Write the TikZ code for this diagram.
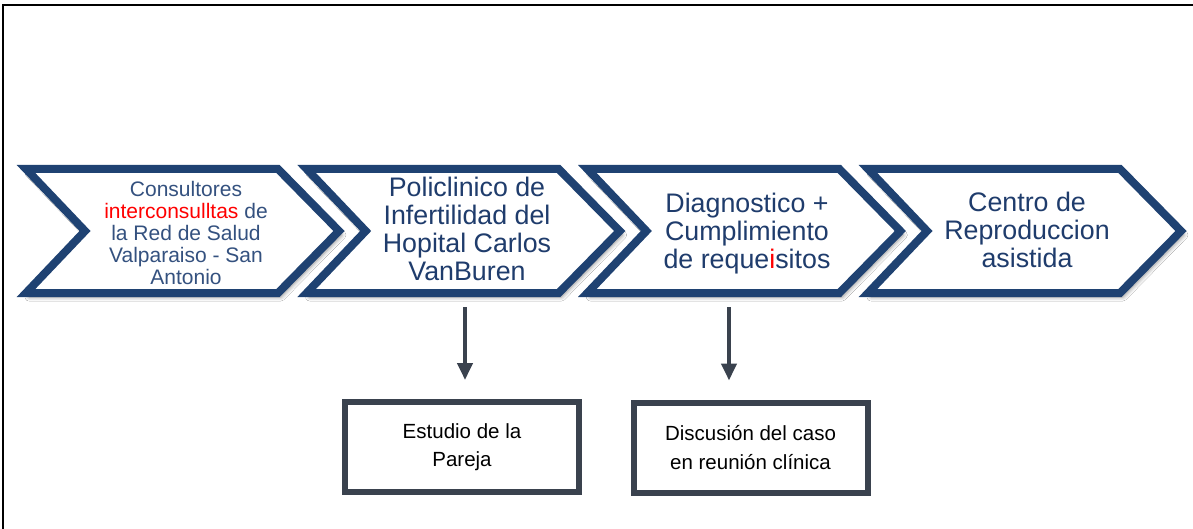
\documentclass[tikz,border=0pt]{standalone}
\usepackage{fontspec}
\setmainfont{Liberation Sans}
\usetikzlibrary{arrows.meta,shadows.blur,calc}
\definecolor{chevblue}{HTML}{1F4272}
\definecolor{chevtextA}{HTML}{34517F}
\definecolor{chevtextB}{HTML}{1F3C6C}
\definecolor{slate}{HTML}{3A424E}
\definecolor{redtxt}{HTML}{FF0000}
\tikzset{
  chev/.style={draw=chevblue, line width=8pt, fill=white, line join=miter,
    blur shadow={shadow xshift=3pt, shadow yshift=-4pt, shadow blur radius=4pt, shadow opacity=45}},
  smalltext/.style={align=center, text=chevtextA, font=\fontsize{21}{22}\selectfont, inner sep=0pt},
  bigtext/.style={align=center, text=chevtextB, font=\fontsize{26.8}{28}\selectfont, inner sep=0pt},
  boxnode/.style={draw=slate, line width=6pt, fill=white, minimum width=234pt, minimum height=90pt,
    align=center, font=\fontsize{20.5}{28.5}\selectfont, text=black},
  arr/.style={draw=slate, line width=4pt, -{Triangle[width=15pt,length=17pt]}}
}
\begin{document}
\begin{tikzpicture}[x=1pt,y=-1pt]
\useasboundingbox (0,0) rectangle (1193,529);
\fill[white] (0,0) rectangle (1193,529);
\draw[line width=2pt, line cap=rect] (3,529) -- (3,5) -- (1193,5);

\foreach \L in {20,300.67,581.33,862}{
  \draw[chev] ({\L+6},169) -- ({\L+258},169) -- ({\L+319},231) -- ({\L+258},293)
     -- ({\L+6},293) -- ({\L+65},231) -- cycle;
}

\node[smalltext] (c1) at (186,232.5) {Consultores\\\textcolor{redtxt}{interconsulltas} de\\la Red de Salud\\Valparaiso - San\\Antonio};
\node[bigtext] (c2) at (467,229) {Policlinico de\\Infertilidad del\\Hopital Carlos\\VanBuren};
\node[bigtext] (c3) at (747,233.5) {Diagnostico +\\Cumplimiento\\de reque\textcolor{redtxt}{i}sitos};
\node[bigtext] (c4) at (1027,230) {Centro de\\Reproduccion\\asistida};

\node[boxnode] (b1) at (462,447) {Estudio de la\\Pareja};
\node[boxnode] (b2) at (750.5,447.5) {Discusión del caso\\en reunión clínica};

\coordinate (s1) at (465,307);
\coordinate (s2) at (729,307);
\draw[arr] (s1) -- ($(s1 |- b1.north)+(0,-19)$);
\draw[arr] (s2) -- ($(s2 |- b2.north)+(0,-19)$);
\end{tikzpicture}
\end{document}
